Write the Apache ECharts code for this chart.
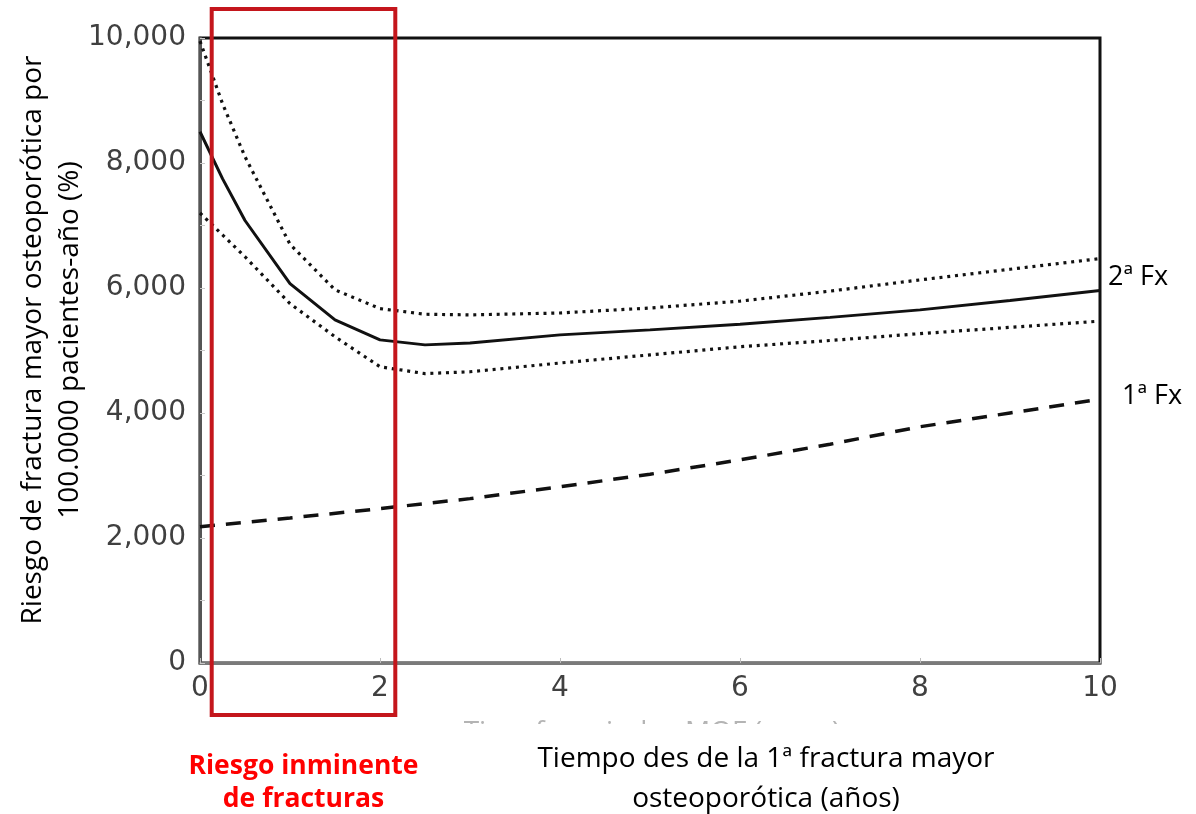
<!DOCTYPE html>
<html>
<head>
<meta charset="utf-8">
<script src="https://cdn.jsdelivr.net/npm/echarts@6/dist/echarts.min.js"></script>
<style>
  html, body { margin: 0; padding: 0; background: #fff; }
  #chart { width: 1196px; height: 814px; }
</style>
</head>
<body>
<div id="chart"></div>
<script>
// Years since the first major osteoporotic fracture
const years = [0, 0.25, 0.5, 1, 1.5, 2, 2.5, 3, 4, 5, 6, 7, 8, 9, 10];

// Risk of a subsequent fracture (2ª Fx) with its confidence band, per 100,000 patient-years
const secondFx      = [8500, 7750, 7080, 6070, 5490, 5170, 5090, 5120, 5250, 5330, 5420, 5530, 5650, 5800, 5960];
const secondFxUpper = [9950, 8950, 8100, 6700, 5970, 5670, 5580, 5570, 5600, 5680, 5790, 5950, 6130, 6300, 6470];
const secondFxLower = [7200, 6850, 6500, 5750, 5220, 4740, 4630, 4660, 4800, 4930, 5060, 5160, 5270, 5370, 5470];

// Risk of a first fracture (1ª Fx)
const firstFxYears = [0, 1, 2, 3, 4, 5, 6, 7, 8, 9, 10];
const firstFx      = [2180, 2320, 2470, 2630, 2820, 3020, 3250, 3500, 3780, 4000, 4220];

// Imminent-risk window (years)
const imminentWindow = [0.13, 2.17];

const seriesNames = ['2ª Fx', '1ª Fx'];
const yTitle = ['Riesgo de fractura mayor osteoporótica por', '100.0000 pacientes-año (%)'];
const xTitle = ['Tiempo des de la 1ª fractura mayor', 'osteoporótica (años)'];
const windowTitle = ['Riesgo inminente', 'de fracturas'];
const hiddenTitle = 'Time from index MOF (years)';

const pair = (xs, ys) => xs.map((x, i) => [x, ys[i]]);

const chart = echarts.init(document.getElementById('chart'), null, { renderer: 'canvas' });

const FONT = '"Open Sans", sans-serif';
const TICK_FONT = '"DejaVu Sans", sans-serif';
const GRID = { left: 200, right: 96, top: 38, bottom: 151 };

const option = {
  animation: false,
  backgroundColor: '#ffffff',
  grid: {
    left: GRID.left, right: GRID.right, top: GRID.top, bottom: GRID.bottom,
    show: true, borderColor: '#111', borderWidth: 3, backgroundColor: 'transparent'
  },
  xAxis: {
    type: 'value', min: 0, max: 10, interval: 2,
    axisLine: { show: true, onZero: false, lineStyle: { color: '#7a7a7a', width: 3 } },
    axisTick: { show: true, inside: true, length: 5, lineStyle: { color: '#bdbdbd', width: 1 } },
    splitLine: { show: false },
    axisLabel: { color: '#404040', fontSize: 28, fontFamily: TICK_FONT, margin: 12 }
  },
  yAxis: {
    type: 'value', min: 0, max: 10000, interval: 2000,
    axisLine: { show: true, onZero: false, lineStyle: { color: '#555', width: 3 } },
    axisTick: { show: true, inside: true, length: 5, lineStyle: { color: '#c8c8c8', width: 1 } },
    minorTick: { show: true, splitNumber: 2, length: 5, lineStyle: { color: '#c8c8c8', width: 1 } },
    splitLine: { show: false },
    axisLabel: {
      color: '#404040', fontSize: 28, fontFamily: TICK_FONT, margin: 14,
      formatter: v => v.toLocaleString('en-US')
    }
  },
  series: [
    {
      name: seriesNames[0] + ' sup', type: 'line', data: pair(years, secondFxUpper),
      showSymbol: false, symbol: 'none', z: 3,
      lineStyle: { color: '#111', width: 3.2, type: [3, 4.8], cap: 'butt' }
    },
    {
      name: seriesNames[0] + ' inf', type: 'line', data: pair(years, secondFxLower),
      showSymbol: false, symbol: 'none', z: 3,
      lineStyle: { color: '#111', width: 3.2, type: [3, 4.8], cap: 'butt' }
    },
    {
      name: seriesNames[0], type: 'line', data: pair(years, secondFx),
      showSymbol: false, symbol: 'none', z: 4,
      lineStyle: { color: '#111', width: 3 },
      endLabel: {
        show: true, formatter: seriesNames[0], distance: 8, offset: [0, -13],
        color: '#000', fontSize: 27, fontFamily: FONT
      }
    },
    {
      name: seriesNames[1], type: 'line', data: pair(firstFxYears, firstFx),
      showSymbol: false, symbol: 'none', z: 4,
      lineStyle: { color: '#111', width: 3.5, type: [15, 11] },
      endLabel: {
        show: true, formatter: seriesNames[1], distance: 22, offset: [0, -3],
        color: '#000', fontSize: 27, fontFamily: FONT
      }
    }
  ]
};

chart.setOption(option);

// Annotations placed from the axes' own scales
const [bx0, by0] = chart.convertToPixel({ gridIndex: 0 }, [imminentWindow[0], 10000]);
const [bx1, by1] = chart.convertToPixel({ gridIndex: 0 }, [imminentWindow[1], 0]);
const boxTop = by0 - 29, boxBottom = by1 + 52;
const boxCenter = (bx0 + bx1) / 2;
const plotCenterX = GRID.left + (1196 - GRID.left - GRID.right) / 2;

chart.setOption({
  graphic: [
    // faint original axis caption, mostly covered
    {
      type: 'text', z: 1,
      style: {
        x: 652, y: 719, text: hiddenTitle, fill: '#b4b4b4',
        font: '28px "Open Sans", sans-serif', textAlign: 'center', textVerticalAlign: 'top'
      }
    },
    { type: 'rect', z: 2, shape: { x: 400, y: 724, width: 560, height: 40 }, style: { fill: '#fff' } },
    // imminent-risk window
    {
      type: 'rect', z: 10,
      shape: { x: bx0, y: boxTop, width: bx1 - bx0, height: boxBottom - boxTop },
      style: { fill: 'none', stroke: '#c4161c', lineWidth: 4 }
    },
    {
      type: 'text', z: 10,
      style: {
        x: boxCenter, y: 750, text: windowTitle.join('\n'), fill: '#ff0000',
        font: 'bold 26.5px ' + FONT, textAlign: 'center', lineHeight: 33
      }
    },
    // x-axis title
    {
      type: 'text', z: 10,
      style: {
        x: plotCenterX + 116, y: 739, text: xTitle.join('\n'), fill: '#000',
        font: '28px ' + FONT, textAlign: 'center', lineHeight: 40
      }
    },
    // y-axis title
    {
      type: 'text', z: 10, x: 52, y: 340, rotation: Math.PI / 2,
      style: {
        x: 0, y: 0, text: yTitle.join('\n'), fill: '#000',
        font: '28px ' + FONT, textAlign: 'center', textVerticalAlign: 'middle', lineHeight: 37
      }
    }
  ]
});
</script>
</body>
</html>
